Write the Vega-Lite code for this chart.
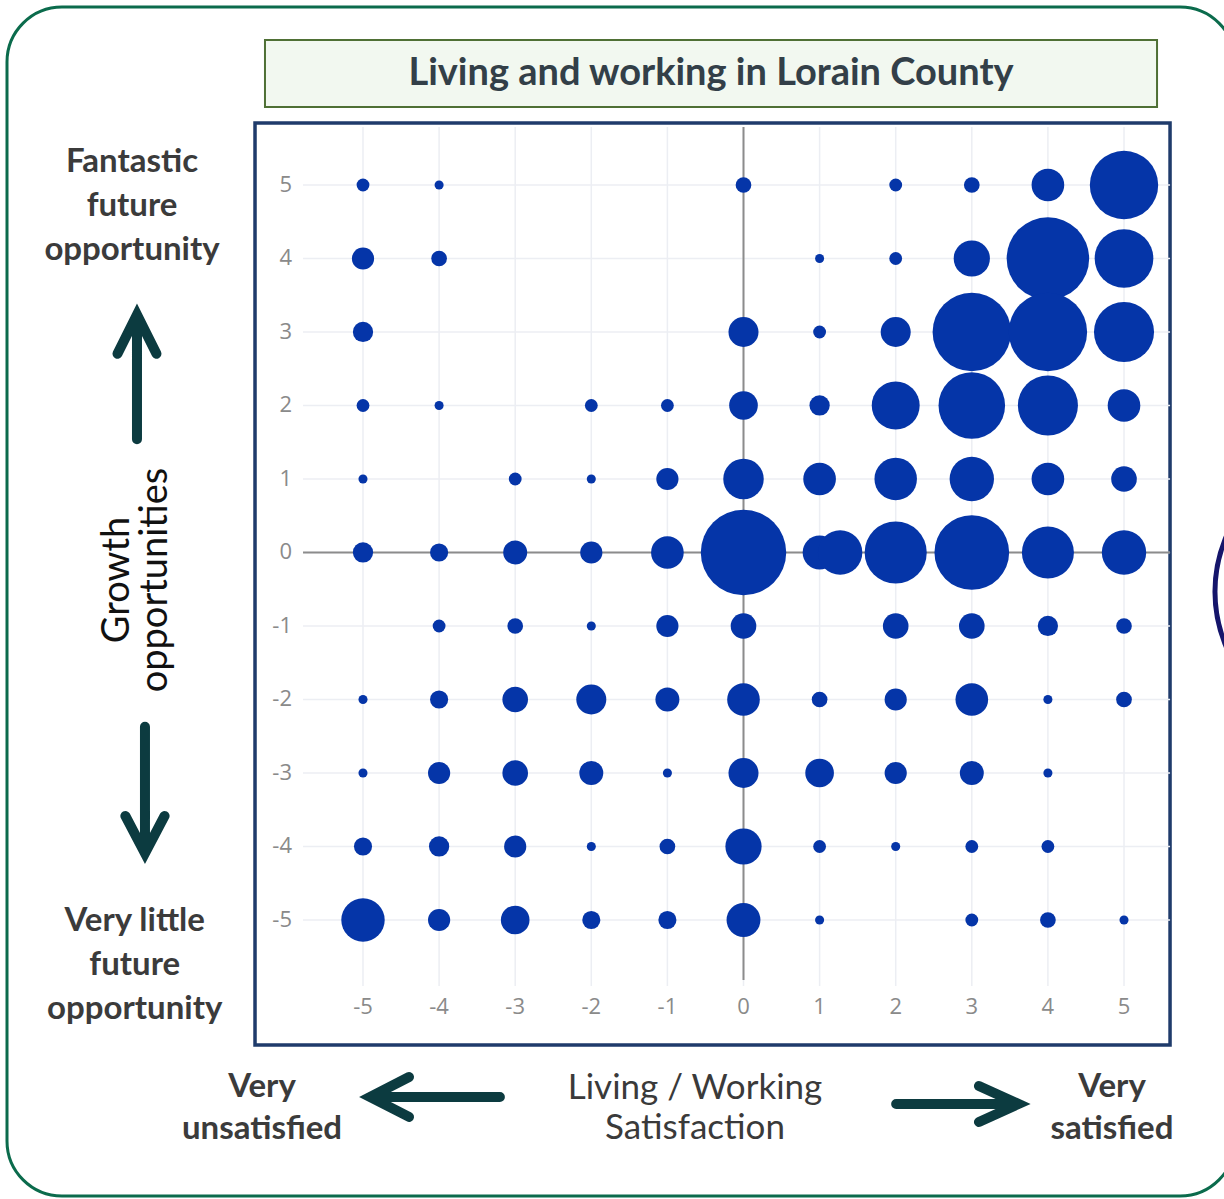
{
  "$schema": "https://vega.github.io/schema/vega-lite/v6.json",
  "width": 1224,
  "height": 1199,
  "padding": 0,
  "autosize": {"type": "fit", "contains": "padding"},
  "background": "white",
  "config": {"view": {"stroke": null}},
  "datasets": {
    "bubbles": [
      {"satisfaction": -5, "growth": 5, "count": 2},
      {"satisfaction": -4, "growth": 5, "count": 1},
      {"satisfaction": 0, "growth": 5, "count": 3},
      {"satisfaction": 2, "growth": 5, "count": 2},
      {"satisfaction": 3, "growth": 5, "count": 3},
      {"satisfaction": 4, "growth": 5, "count": 13},
      {"satisfaction": 5, "growth": 5, "count": 57},
      {"satisfaction": -5, "growth": 4, "count": 6},
      {"satisfaction": -4, "growth": 4, "count": 3},
      {"satisfaction": 1, "growth": 4, "count": 1},
      {"satisfaction": 2, "growth": 4, "count": 2},
      {"satisfaction": 3, "growth": 4, "count": 16},
      {"satisfaction": 4, "growth": 4, "count": 83},
      {"satisfaction": 5, "growth": 4, "count": 42},
      {"satisfaction": -5, "growth": 3, "count": 5},
      {"satisfaction": 0, "growth": 3, "count": 11},
      {"satisfaction": 1, "growth": 3, "count": 2},
      {"satisfaction": 2, "growth": 3, "count": 11},
      {"satisfaction": 3, "growth": 3, "count": 75},
      {"satisfaction": 4, "growth": 3, "count": 75},
      {"satisfaction": 5, "growth": 3, "count": 44},
      {"satisfaction": -5, "growth": 2, "count": 2},
      {"satisfaction": -4, "growth": 2, "count": 1},
      {"satisfaction": -2, "growth": 2, "count": 2},
      {"satisfaction": -1, "growth": 2, "count": 2},
      {"satisfaction": 0, "growth": 2, "count": 10},
      {"satisfaction": 1, "growth": 2, "count": 5},
      {"satisfaction": 2, "growth": 2, "count": 28},
      {"satisfaction": 3, "growth": 2, "count": 54},
      {"satisfaction": 4, "growth": 2, "count": 44},
      {"satisfaction": 5, "growth": 2, "count": 13},
      {"satisfaction": -5, "growth": 1, "count": 1},
      {"satisfaction": -3, "growth": 1, "count": 2},
      {"satisfaction": -2, "growth": 1, "count": 1},
      {"satisfaction": -1, "growth": 1, "count": 6},
      {"satisfaction": 0, "growth": 1, "count": 20},
      {"satisfaction": 1, "growth": 1, "count": 13},
      {"satisfaction": 2, "growth": 1, "count": 22},
      {"satisfaction": 3, "growth": 1, "count": 24},
      {"satisfaction": 4, "growth": 1, "count": 13},
      {"satisfaction": 5, "growth": 1, "count": 8},
      {"satisfaction": -5, "growth": 0, "count": 5},
      {"satisfaction": -4, "growth": 0, "count": 4},
      {"satisfaction": -3, "growth": 0, "count": 7},
      {"satisfaction": -2, "growth": 0, "count": 6},
      {"satisfaction": -1, "growth": 0, "count": 13},
      {"satisfaction": 0, "growth": 0, "count": 89},
      {"satisfaction": 1, "growth": 0, "count": 14},
      {"satisfaction": 1.27, "growth": 0, "count": 24},
      {"satisfaction": 2, "growth": 0, "count": 47},
      {"satisfaction": 3, "growth": 0, "count": 68},
      {"satisfaction": 4, "growth": 0, "count": 33},
      {"satisfaction": 5, "growth": 0, "count": 24},
      {"satisfaction": -4, "growth": -1, "count": 2},
      {"satisfaction": -3, "growth": -1, "count": 3},
      {"satisfaction": -2, "growth": -1, "count": 1},
      {"satisfaction": -1, "growth": -1, "count": 6},
      {"satisfaction": 0, "growth": -1, "count": 8},
      {"satisfaction": 2, "growth": -1, "count": 8},
      {"satisfaction": 3, "growth": -1, "count": 8},
      {"satisfaction": 4, "growth": -1, "count": 5},
      {"satisfaction": 5, "growth": -1, "count": 3},
      {"satisfaction": -5, "growth": -2, "count": 1},
      {"satisfaction": -4, "growth": -2, "count": 4},
      {"satisfaction": -3, "growth": -2, "count": 8},
      {"satisfaction": -2, "growth": -2, "count": 11},
      {"satisfaction": -1, "growth": -2, "count": 7},
      {"satisfaction": 0, "growth": -2, "count": 13},
      {"satisfaction": 1, "growth": -2, "count": 3},
      {"satisfaction": 2, "growth": -2, "count": 6},
      {"satisfaction": 3, "growth": -2, "count": 13},
      {"satisfaction": 4, "growth": -2, "count": 1},
      {"satisfaction": 5, "growth": -2, "count": 3},
      {"satisfaction": -5, "growth": -3, "count": 1},
      {"satisfaction": -4, "growth": -3, "count": 6},
      {"satisfaction": -3, "growth": -3, "count": 8},
      {"satisfaction": -2, "growth": -3, "count": 7},
      {"satisfaction": -1, "growth": -3, "count": 1},
      {"satisfaction": 0, "growth": -3, "count": 11},
      {"satisfaction": 1, "growth": -3, "count": 10},
      {"satisfaction": 2, "growth": -3, "count": 6},
      {"satisfaction": 3, "growth": -3, "count": 7},
      {"satisfaction": 4, "growth": -3, "count": 1},
      {"satisfaction": -5, "growth": -4, "count": 4},
      {"satisfaction": -4, "growth": -4, "count": 5},
      {"satisfaction": -3, "growth": -4, "count": 6},
      {"satisfaction": -2, "growth": -4, "count": 1},
      {"satisfaction": -1, "growth": -4, "count": 3},
      {"satisfaction": 0, "growth": -4, "count": 16},
      {"satisfaction": 1, "growth": -4, "count": 2},
      {"satisfaction": 2, "growth": -4, "count": 1},
      {"satisfaction": 3, "growth": -4, "count": 2},
      {"satisfaction": 4, "growth": -4, "count": 2},
      {"satisfaction": -5, "growth": -5, "count": 23},
      {"satisfaction": -4, "growth": -5, "count": 6},
      {"satisfaction": -3, "growth": -5, "count": 10},
      {"satisfaction": -2, "growth": -5, "count": 4},
      {"satisfaction": -1, "growth": -5, "count": 4},
      {"satisfaction": 0, "growth": -5, "count": 14},
      {"satisfaction": 1, "growth": -5, "count": 1},
      {"satisfaction": 3, "growth": -5, "count": 2},
      {"satisfaction": 4, "growth": -5, "count": 3},
      {"satisfaction": 5, "growth": -5, "count": 1}
    ],
    "ticks": [
      {"v": -5, "label": "-5"}, {"v": -4, "label": "-4"}, {"v": -3, "label": "-3"},
      {"v": -2, "label": "-2"}, {"v": -1, "label": "-1"}, {"v": 0, "label": "0"},
      {"v": 1, "label": "1"}, {"v": 2, "label": "2"}, {"v": 3, "label": "3"},
      {"v": 4, "label": "4"}, {"v": 5, "label": "5"}
    ]
  },
  "layer": [
    {
      "data": {"values": [{}]},
      "mark": {"type": "rect", "fill": "white", "stroke": "#0b6b4c", "strokeWidth": 3, "cornerRadius": 55, "clip": true},
      "encoding": {
        "x": {"datum": -9.678, "axis": null},
        "x2": {"datum": 6.46},
        "y": {"datum": 7.422, "axis": null},
        "y2": {"datum": -8.755}
      }
    },
    {
      "data": {"values": [{}]},
      "mark": {"type": "rect", "fill": "#f2f8f0", "stroke": "#4f7035", "strokeWidth": 2},
      "encoding": {
        "x": {"datum": -6.288, "axis": null},
        "x2": {"datum": 5.434},
        "y": {"datum": 6.973, "axis": null},
        "y2": {"datum": 6.061}
      }
    },
    {
      "data": {"values": [{"t": "Living and working in Lorain County"}]},
      "mark": {"type": "text", "font": "Lato", "fontWeight": "bold", "fontSize": 38, "color": "#333f48", "align": "center", "baseline": "middle"},
      "encoding": {
        "x": {"datum": -0.427, "axis": null},
        "y": {"datum": 6.51, "axis": null},
        "text": {"field": "t"}
      }
    },
    {
      "data": {"values": [{}]},
      "mark": {"type": "rect", "filled": false, "stroke": "#1f3b6b", "strokeWidth": 3.5},
      "encoding": {
        "x": {"datum": -6.419, "axis": null},
        "x2": {"datum": 5.605},
        "y": {"datum": 5.844, "axis": null},
        "y2": {"datum": -6.701}
      }
    },
    {
      "data": {"name": "ticks"},
      "mark": {"type": "rule", "color": "#eceef3", "strokeWidth": 1.5},
      "encoding": {
        "x": {"field": "v", "type": "quantitative", "axis": null},
        "y": {"datum": -5.898, "axis": null},
        "y2": {"datum": 5.789}
      }
    },
    {
      "data": {"name": "ticks"},
      "mark": {"type": "rule", "color": "#eceef3", "strokeWidth": 1.5},
      "encoding": {
        "y": {"field": "v", "type": "quantitative", "axis": null},
        "x": {"datum": -5.788, "axis": null},
        "x2": {"datum": 5.605}
      }
    },
    {
      "data": {"values": [{}]},
      "mark": {"type": "rule", "color": "#8c8c8c", "strokeWidth": 2},
      "encoding": {
        "x": {"datum": 0, "axis": null},
        "y": {"datum": -5.816, "axis": null},
        "y2": {"datum": 5.789}
      }
    },
    {
      "data": {"values": [{}]},
      "mark": {"type": "rule", "color": "#8c8c8c", "strokeWidth": 2},
      "encoding": {
        "y": {"datum": 0, "axis": null},
        "x": {"datum": -5.788, "axis": null},
        "x2": {"datum": 5.605}
      }
    },
    {
      "data": {"name": "ticks"},
      "mark": {"type": "text", "font": "Open Sans", "fontSize": 22, "color": "#8a8a8a", "align": "center", "baseline": "middle"},
      "encoding": {
        "x": {"field": "v", "type": "quantitative", "axis": null},
        "y": {"datum": -6.184, "axis": null},
        "text": {"field": "label", "type": "nominal"}
      }
    },
    {
      "data": {"name": "ticks"},
      "mark": {"type": "text", "font": "Open Sans", "fontSize": 22, "color": "#8a8a8a", "align": "right", "baseline": "middle"},
      "encoding": {
        "y": {"field": "v", "type": "quantitative", "axis": null},
        "x": {"datum": -5.933, "axis": null},
        "text": {"field": "label", "type": "nominal"}
      }
    },
    {
      "data": {"name": "bubbles"},
      "mark": {"type": "circle", "color": "#0535a8", "opacity": 1},
      "encoding": {
        "x": {
          "field": "satisfaction", "type": "quantitative", "title": "Living / Working Satisfaction",
          "scale": {"domain": [-9.77, 6.314], "nice": false, "zero": false},
          "axis": null
        },
        "y": {
          "field": "growth", "type": "quantitative", "title": "Growth opportunities",
          "scale": {"domain": [-8.796, 7.517], "nice": false, "zero": false},
          "axis": null
        },
        "size": {"field": "count", "type": "quantitative", "scale": {"domain": [0, 89], "range": [0, 7300]}, "legend": null}
      }
    },
    {
      "data": {"values": [{"t": "Fantastic\nfuture\nopportunity"}]},
      "mark": {"type": "text", "font": "Lato", "fontWeight": "bold", "fontSize": 33, "color": "#3b3b3b", "align": "center", "baseline": "middle", "lineBreak": "\n", "lineHeight": 44},
      "encoding": {"x": {"datum": -8.035, "axis": null}, "y": {"datum": 5.313, "axis": null}, "text": {"field": "t"}}
    },
    {
      "data": {"values": [{"t": "Very little\nfuture\nopportunity"}]},
      "mark": {"type": "text", "font": "Lato", "fontWeight": "bold", "fontSize": 33, "color": "#3b3b3b", "align": "center", "baseline": "middle", "lineBreak": "\n", "lineHeight": 44},
      "encoding": {"x": {"datum": -8.0, "axis": null}, "y": {"datum": -5.014, "axis": null}, "text": {"field": "t"}}
    },
    {
      "data": {"values": [{"t": "Growth\nopportunities"}]},
      "mark": {"type": "text", "font": "Lato", "fontSize": 38, "color": "#111111", "align": "center", "baseline": "middle", "angle": 270, "lineBreak": "\n", "lineHeight": 38},
      "encoding": {"x": {"datum": -8.219, "axis": null}, "y": {"datum": -0.374, "axis": null}, "text": {"field": "t"}}
    },
    {
      "data": {"values": [{"t": "Very\nunsatisfied"}]},
      "mark": {"type": "text", "font": "Lato", "fontWeight": "bold", "fontSize": 33, "color": "#3b3b3b", "align": "center", "baseline": "middle", "lineBreak": "\n", "lineHeight": 42},
      "encoding": {"x": {"datum": -6.327, "axis": null}, "y": {"datum": -7.272, "axis": null}, "text": {"field": "t"}}
    },
    {
      "data": {"values": [{"t": "Living / Working\nSatisfaction"}]},
      "mark": {"type": "text", "font": "Lato", "fontSize": 35, "color": "#3a3a3a", "align": "center", "baseline": "middle", "lineBreak": "\n", "lineHeight": 40},
      "encoding": {"x": {"datum": -0.637, "axis": null}, "y": {"datum": -7.286, "axis": null}, "text": {"field": "t"}}
    },
    {
      "data": {"values": [{"t": "Very\nsatisfied"}]},
      "mark": {"type": "text", "font": "Lato", "fontWeight": "bold", "fontSize": 33, "color": "#3b3b3b", "align": "center", "baseline": "middle", "lineBreak": "\n", "lineHeight": 42},
      "encoding": {"x": {"datum": 4.842, "axis": null}, "y": {"datum": -7.272, "axis": null}, "text": {"field": "t"}}
    },
    {
      "data": {"values": [{}]},
      "mark": {"type": "point", "shape": "M0,1 L0,-1 M-0.313,-0.373 L0,-1 L0.313,-0.373", "size": 15532, "filled": false, "stroke": "#0c3b40", "strokeWidth": 10, "strokeCap": "round", "strokeJoin": "miter", "opacity": 1},
      "encoding": {"x": {"datum": -7.97, "axis": null}, "y": {"datum": 2.388, "axis": null}}
    },
    {
      "data": {"values": [{}]},
      "mark": {"type": "point", "shape": "M0,-1 L0,1 M-0.31,0.41 L0,1 L0.31,0.41", "size": 16000, "filled": false, "stroke": "#0c3b40", "strokeWidth": 10, "strokeCap": "round", "strokeJoin": "miter", "opacity": 1},
      "encoding": {"x": {"datum": -7.865, "axis": null}, "y": {"datum": -3.231, "axis": null}}
    },
    {
      "data": {"values": [{}]},
      "mark": {"type": "point", "shape": "M1,0 L-1,0 M-0.4,-0.307 L-1,0 L-0.4,0.307", "size": 16856, "filled": false, "stroke": "#0c3b40", "strokeWidth": 10, "strokeCap": "round", "strokeJoin": "miter", "opacity": 1},
      "encoding": {"x": {"datum": -4.054, "axis": null}, "y": {"datum": -7.408, "axis": null}}
    },
    {
      "data": {"values": [{}]},
      "mark": {"type": "point", "shape": "M-1,0 L1,0 M0.353,-0.294 L1,0 L0.353,0.294", "size": 14980, "filled": false, "stroke": "#0c3b40", "strokeWidth": 10, "strokeCap": "round", "strokeJoin": "miter", "opacity": 1},
      "encoding": {"x": {"datum": 2.81, "axis": null}, "y": {"datum": -7.503, "axis": null}}
    },
    {
      "data": {"values": [{}]},
      "mark": {"type": "point", "shape": "circle", "size": 78400, "filled": false, "stroke": "#15156b", "strokeWidth": 5, "opacity": 1, "clip": true},
      "encoding": {"x": {"datum": 8.035, "axis": null}, "y": {"datum": -0.534, "axis": null}}
    }
  ]
}
